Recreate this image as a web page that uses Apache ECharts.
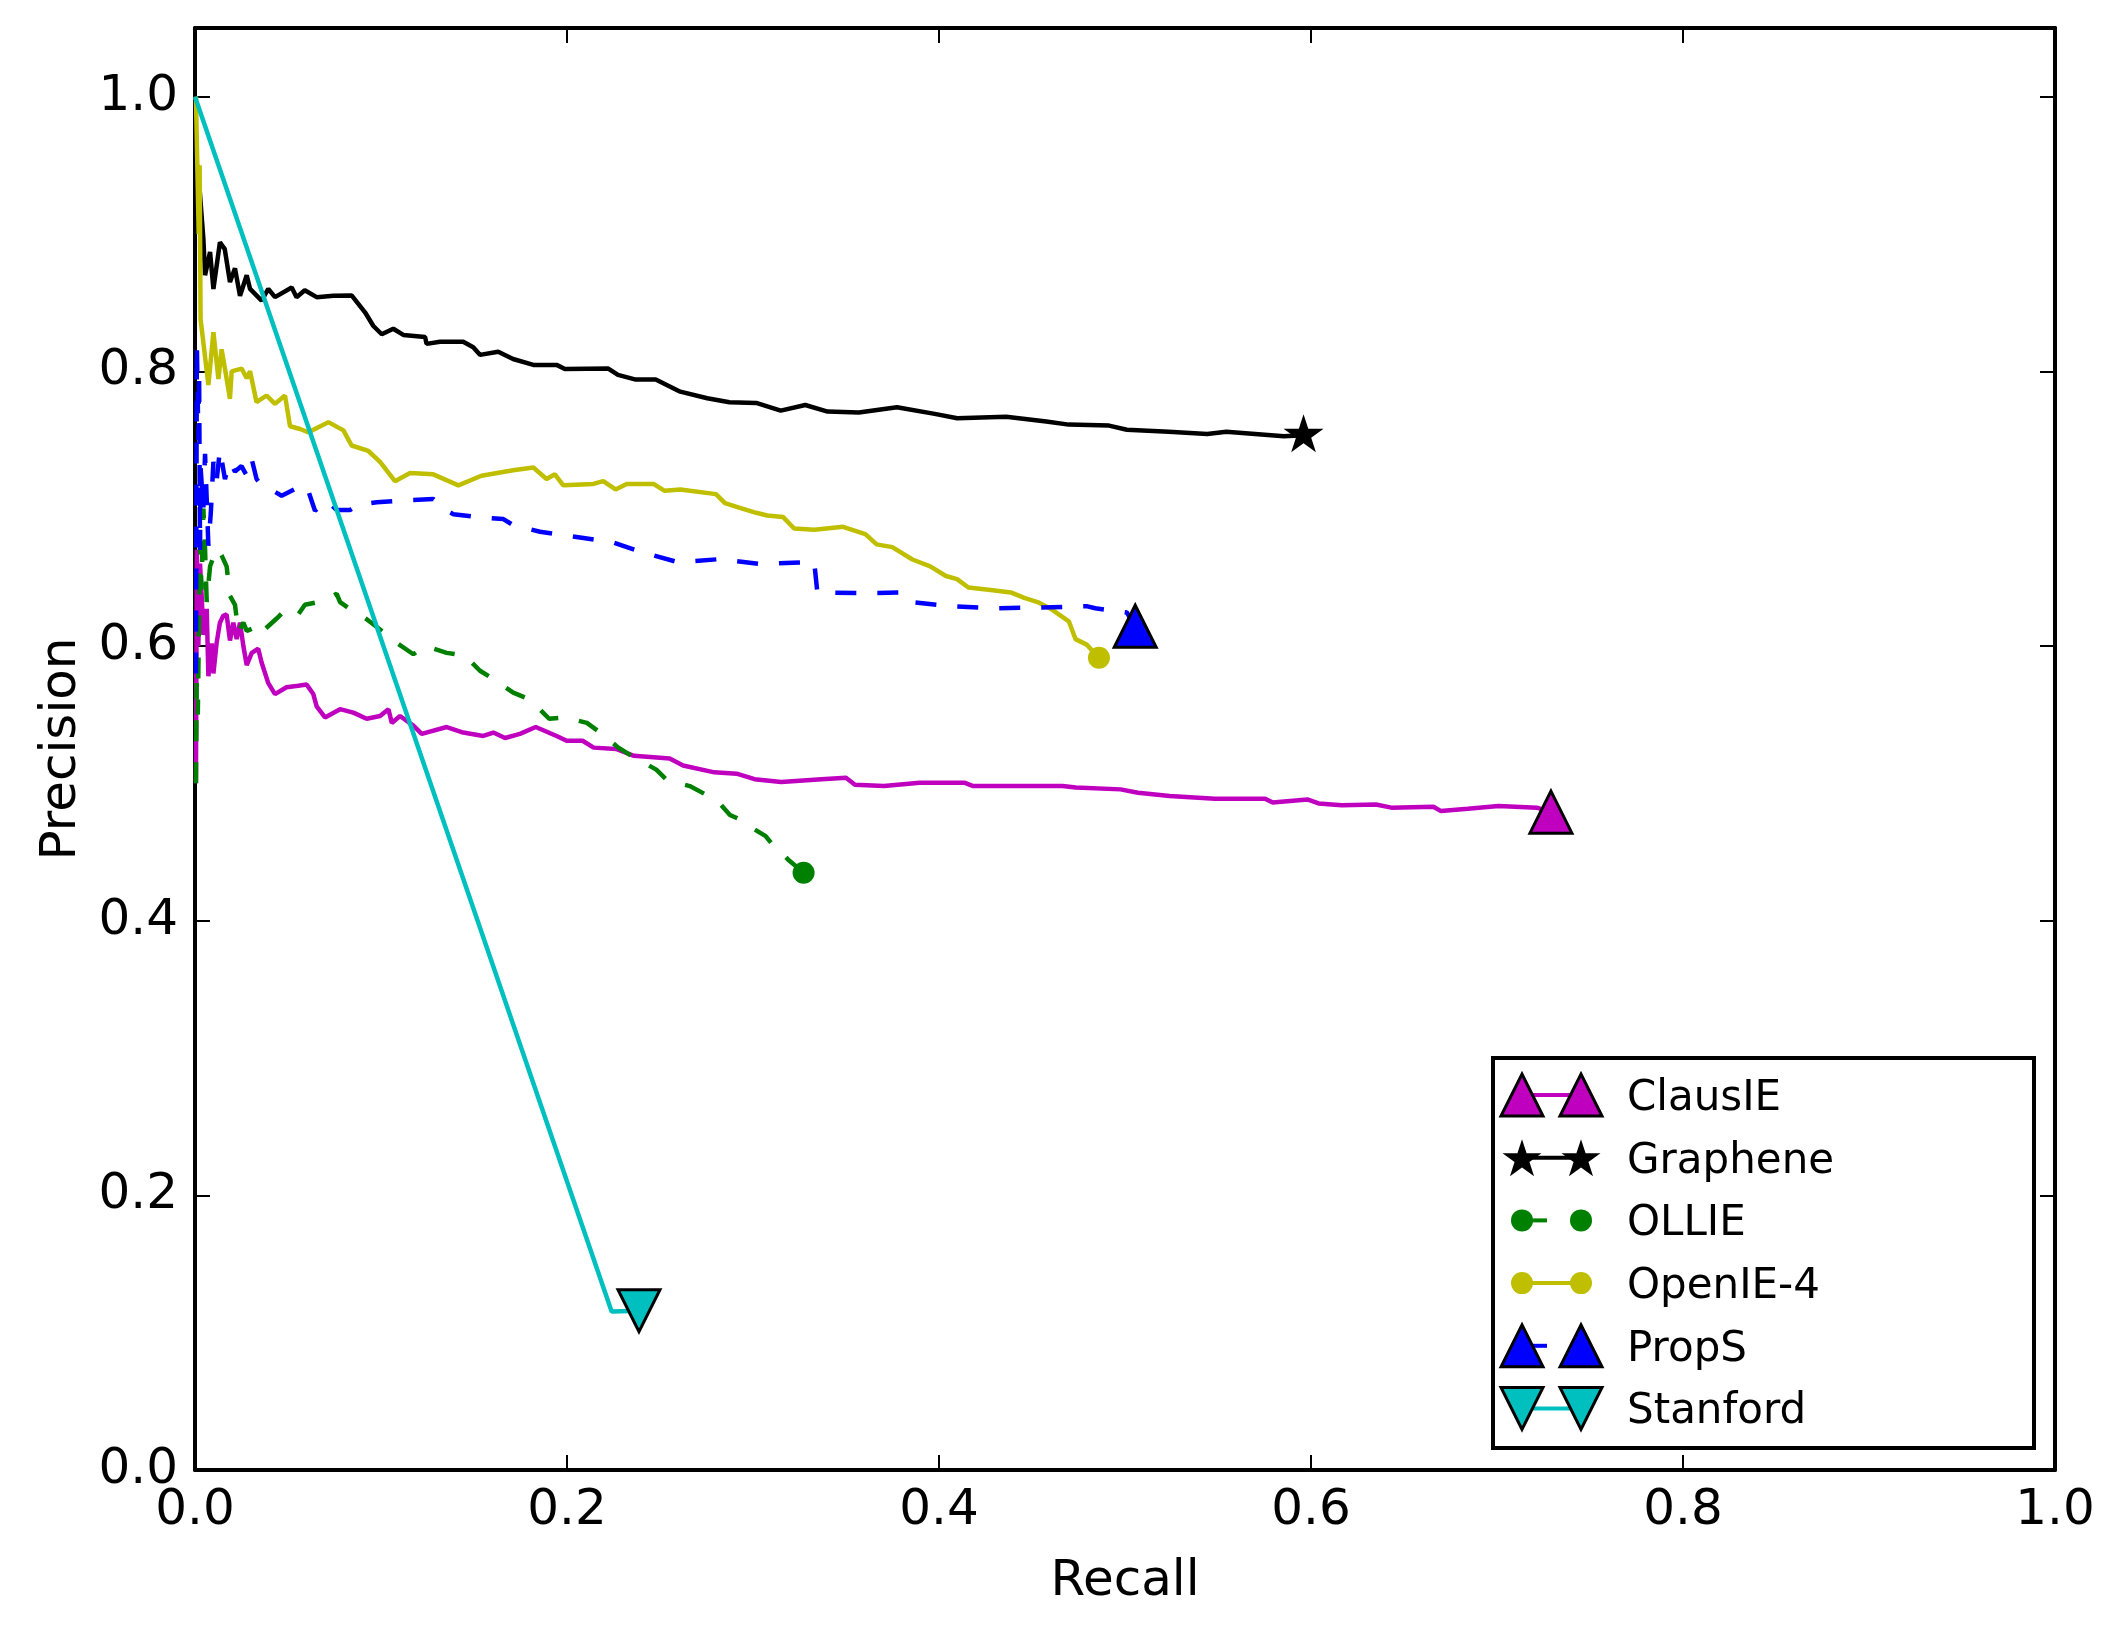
<!DOCTYPE html>
<html>
<head>
<meta charset="utf-8">
<script src="https://cdn.jsdelivr.net/npm/echarts@6/dist/echarts.min.js"></script>
<style>
html, body { margin: 0; padding: 0; background: #fff; }
#chart { width: 2124px; height: 1633px; }
</style>
</head>
<body>
<div id="chart"></div>
<script>
// recall / precision pairs
var clausie = [[0.0005,0.50],[0.0010,0.67],[0.0018,0.60],[0.0027,0.66],[0.0036,0.636],[0.0045,0.608],[0.0063,0.627],[0.0072,0.578],[0.009,0.602],[0.0099,0.580],[0.0116,0.602],[0.0134,0.617],[0.0152,0.622],[0.017,0.623],[0.0188,0.604],[0.0206,0.617],[0.0224,0.605],[0.0242,0.617],[0.026,0.600],[0.0278,0.586],[0.0305,0.595],[0.034,0.598],[0.0358,0.588],[0.0394,0.573],[0.043,0.565],[0.0492,0.570],[0.0555,0.571],[0.060,0.572],[0.0636,0.565],[0.0654,0.556],[0.0699,0.548],[0.078,0.554],[0.0851,0.5515],[0.0923,0.547],[0.0995,0.549],[0.104,0.554],[0.1058,0.544],[0.1102,0.549],[0.1174,0.542],[0.1219,0.536],[0.1353,0.541],[0.1442,0.537],[0.155,0.5345],[0.1604,0.537],[0.1667,0.533],[0.1747,0.536],[0.1832,0.541],[0.1944,0.5345],[0.1998,0.531],[0.2084,0.531],[0.2143,0.526],[0.2264,0.525],[0.236,0.520],[0.2552,0.518],[0.2624,0.513],[0.2792,0.508],[0.2912,0.507],[0.3008,0.503],[0.3152,0.501],[0.3368,0.503],[0.350,0.504],[0.3548,0.499],[0.3704,0.498],[0.3896,0.5005],[0.4136,0.5005],[0.4184,0.498],[0.4424,0.498],[0.4664,0.498],[0.4736,0.497],[0.4976,0.4956],[0.507,0.4932],[0.524,0.4908],[0.5483,0.4888],[0.5753,0.4888],[0.5794,0.486],[0.598,0.4883],[0.6041,0.4854],[0.6165,0.484],[0.6349,0.4846],[0.6432,0.4823],[0.6658,0.483],[0.6699,0.4798],[0.6843,0.4815],[0.7008,0.4835],[0.7214,0.4823],[0.729,0.479]];

var graphene = [[0.0015,0.95],[0.0045,0.8965],[0.0054,0.870],[0.0081,0.887],[0.0099,0.860],[0.0134,0.894],[0.016,0.889],[0.0188,0.865],[0.0215,0.875],[0.0242,0.855],[0.0278,0.870],[0.0296,0.860],[0.0358,0.8515],[0.0394,0.860],[0.043,0.854],[0.052,0.861],[0.0546,0.854],[0.059,0.859],[0.0654,0.854],[0.0744,0.855],[0.0842,0.8553],[0.0914,0.843],[0.0959,0.833],[0.1004,0.827],[0.1066,0.831],[0.112,0.8265],[0.1237,0.825],[0.1245,0.820],[0.1317,0.8216],[0.1442,0.8216],[0.1496,0.8175],[0.1532,0.812],[0.163,0.8143],[0.171,0.809],[0.1819,0.8047],[0.1944,0.8047],[0.1989,0.8017],[0.2222,0.802],[0.2274,0.7974],[0.237,0.794],[0.2477,0.794],[0.2609,0.7852],[0.2754,0.7804],[0.2873,0.7775],[0.3017,0.777],[0.3149,0.7714],[0.3281,0.7755],[0.3401,0.7707],[0.3569,0.770],[0.3774,0.7738],[0.3977,0.769],[0.4098,0.7658],[0.4361,0.767],[0.4577,0.7634],[0.4697,0.7612],[0.4914,0.7605],[0.501,0.7575],[0.5236,0.756],[0.5442,0.7543],[0.5545,0.756],[0.5854,0.7527],[0.596,0.7534]];

var ollie = [[0.0005,0.50],[0.0009,0.573],[0.0015,0.55],[0.0027,0.675],[0.0035,0.641],[0.0045,0.700],[0.0054,0.671],[0.0063,0.632],[0.0081,0.658],[0.0116,0.671],[0.0143,0.666],[0.017,0.658],[0.0188,0.6365],[0.0215,0.630],[0.0233,0.610],[0.026,0.617],[0.0278,0.611],[0.0331,0.614],[0.0349,0.609],[0.0439,0.620],[0.0492,0.627],[0.0555,0.623],[0.0591,0.630],[0.0699,0.633],[0.0762,0.638],[0.078,0.632],[0.0842,0.626],[0.0923,0.6195],[0.0995,0.612],[0.1066,0.604],[0.1174,0.594],[0.1237,0.600],[0.1353,0.595],[0.1451,0.593],[0.1532,0.582],[0.1604,0.576],[0.1711,0.566],[0.1801,0.561],[0.1904,0.547],[0.1988,0.548],[0.2107,0.544],[0.2179,0.537],[0.2276,0.526],[0.236,0.519],[0.248,0.510],[0.254,0.502],[0.266,0.498],[0.2744,0.492],[0.2816,0.486],[0.2876,0.477],[0.2948,0.4725],[0.3008,0.4665],[0.3068,0.4616],[0.3104,0.4555],[0.3152,0.4495],[0.3188,0.4446],[0.3272,0.4349]];

var openie4 = [[0.0005,1.0],[0.0015,1.0],[0.002,0.90],[0.0025,0.95],[0.003,0.838],[0.0072,0.790],[0.0099,0.8285],[0.0126,0.7945],[0.0143,0.816],[0.0161,0.802],[0.0188,0.780],[0.0197,0.800],[0.0251,0.802],[0.0278,0.795],[0.0296,0.800],[0.0331,0.7775],[0.0385,0.7824],[0.043,0.7763],[0.0484,0.7824],[0.0511,0.760],[0.0565,0.758],[0.061,0.7556],[0.0717,0.763],[0.0798,0.757],[0.0842,0.746],[0.0932,0.742],[0.0995,0.734],[0.1075,0.720],[0.1156,0.726],[0.1281,0.725],[0.1416,0.717],[0.154,0.724],[0.171,0.728],[0.1819,0.730],[0.189,0.7216],[0.1935,0.725],[0.198,0.717],[0.2142,0.718],[0.2195,0.720],[0.2261,0.714],[0.2321,0.718],[0.2465,0.718],[0.2525,0.713],[0.2609,0.714],[0.2801,0.7106],[0.2849,0.704],[0.2921,0.701],[0.3017,0.697],[0.3077,0.695],[0.3161,0.694],[0.3221,0.6856],[0.333,0.6847],[0.3484,0.6868],[0.3604,0.6815],[0.3665,0.674],[0.3749,0.672],[0.3857,0.663],[0.3953,0.658],[0.4037,0.651],[0.4097,0.6487],[0.4158,0.6426],[0.4266,0.641],[0.4386,0.639],[0.4458,0.635],[0.453,0.632],[0.4602,0.627],[0.4698,0.618],[0.4734,0.605],[0.4794,0.601],[0.486,0.5915]];

var props = [[0.0005,0.58],[0.001,0.82],[0.0018,0.75],[0.0022,0.80],[0.0027,0.67],[0.003,0.73],[0.0045,0.70],[0.0054,0.74],[0.0072,0.673],[0.0085,0.697],[0.0099,0.734],[0.0116,0.72],[0.0134,0.743],[0.0161,0.7216],[0.0188,0.734],[0.0215,0.727],[0.025,0.731],[0.0278,0.724],[0.0305,0.736],[0.0331,0.7216],[0.0358,0.7167],[0.0403,0.7143],[0.0466,0.7094],[0.0538,0.7143],[0.060,0.7167],[0.0618,0.7094],[0.0645,0.6985],[0.0708,0.7058],[0.0762,0.699],[0.0833,0.699],[0.0878,0.703],[0.0977,0.7046],[0.111,0.7058],[0.1281,0.707],[0.1353,0.6985],[0.1389,0.696],[0.1532,0.6936],[0.1658,0.6924],[0.1711,0.688],[0.1855,0.6832],[0.207,0.679],[0.2249,0.6754],[0.241,0.668],[0.2597,0.661],[0.2825,0.6633],[0.3041,0.6596],[0.3329,0.6613],[0.3346,0.639],[0.3617,0.6385],[0.381,0.639],[0.387,0.6317],[0.4073,0.6289],[0.4289,0.6275],[0.4553,0.628],[0.4793,0.629],[0.484,0.6275],[0.501,0.6244],[0.5055,0.6144]];

var stanford = [[0,1.0],[0.224,0.1154],[0.2387,0.116]];

var names = ['ClausIE', 'Graphene', 'OLLIE', 'OpenIE-4', 'PropS', 'Stanford'];
var colors = ['#bf00bf', '#000000', '#008000', '#bfbf00', '#0000ff', '#00bfbf'];
var tickLabels = ['0.0', '0.2', '0.4', '0.6', '0.8', '1.0'];

var FONT = 'DejaVu Sans';
var STAR = 'path://M100,0 L122.45,69.1 L195.1,69.1 L136.33,111.8 L158.78,180.9 L100,138.2 L41.22,180.9 L63.67,111.8 L4.9,69.1 L77.55,69.1 Z';
var TRI_DOWN = 'path://M0,0 L2,0 L1,2 Z';

var markers = [
    {symbol: 'triangle', size: [42, 42], border: true},
    {symbol: STAR, size: [40, 38], offset: [0, -2], border: false},
    {symbol: 'circle', size: 22, border: false},
    {symbol: 'circle', size: 22, border: false},
    {symbol: 'triangle', size: [42, 42], border: true},
    {symbol: TRI_DOWN, size: [42, 42], border: true}
];

function makeSeries(i, pts, dashed) {
    var m = markers[i];
    var data = pts.map(function (p, k) {
        if (k < pts.length - 1) return p;
        return {
            value: p,
            symbol: m.symbol,
            symbolSize: m.size,
            symbolOffset: m.offset || [0, 0],
            itemStyle: {color: colors[i], borderColor: '#000', borderWidth: m.border ? 3 : 0}
        };
    });
    return {
        type: 'line',
        name: names[i],
        data: data,
        symbol: 'none',
        lineStyle: {color: colors[i], width: 4.5, type: dashed ? [21, 21] : 'solid'},
        itemStyle: {color: colors[i]},
        animation: false
    };
}

function tickFmt(v) {
    var k = v * 5;
    if (Math.abs(k - Math.round(k)) > 1e-6) return '';
    return tickLabels[Math.round(k)];
}

var tickStyle = {show: true, inside: true, length: 15, lineStyle: {color: '#000', width: 2}};
var lineStyleAxis = {show: true, onZero: false, lineStyle: {color: '#000', width: 4}};

// legend drawn by hand, matplotlib style: marker - line - marker
function legendMarker(i, cx, cy) {
    var c = colors[i];
    if (i === 2 || i === 3) {
        return {type: 'circle', shape: {cx: cx, cy: cy, r: 11}, style: {fill: c}, z: 102};
    }
    var pts;
    if (i === 1) {
        pts = [];
        for (var k = 0; k < 10; k++) {
            var a = (-90 + 36 * k) * Math.PI / 180;
            var r = k % 2 === 0 ? 20.5 : 20.5 * 0.382;
            pts.push([cx + r * Math.cos(a), cy + 2 + r * Math.sin(a)]);
        }
        return {type: 'polygon', shape: {points: pts}, style: {fill: c}, z: 102};
    }
    if (i === 5) {
        pts = [[cx - 21, cy - 21], [cx + 21, cy - 21], [cx, cy + 21]];
    } else {
        pts = [[cx - 21, cy + 21], [cx, cy - 21], [cx + 21, cy + 21]];
    }
    return {type: 'polygon', shape: {points: pts}, style: {fill: c, stroke: '#000', lineWidth: 3}, z: 102};
}

var legendEls = [{
    type: 'rect', shape: {x: 1493, y: 1058, width: 541, height: 390},
    style: {fill: '#fff', stroke: '#000', lineWidth: 4}, z: 100
}];
names.forEach(function (n, i) {
    var y = 1095 + i * 62.7;
    var dashed = (i === 2 || i === 4);
    legendEls.push({type: 'line', shape: {x1: 1522, y1: y, x2: dashed ? 1547 : 1581, y2: y},
        style: {stroke: colors[i], lineWidth: 4}, z: 101});
    legendEls.push(legendMarker(i, 1522, y));
    legendEls.push(legendMarker(i, 1581, y));
    legendEls.push({type: 'text', x: 1627, y: y + 4, z: 102,
        style: {text: n, fill: '#000', font: '42px "' + FONT + '"', verticalAlign: 'middle', align: 'left'}});
});

var option = {
    backgroundColor: '#fff',
    animation: false,
    textStyle: {fontFamily: FONT},
    grid: {left: 195, right: 69, top: 28, bottom: 163, containLabel: false},
    xAxis: [{
        type: 'value', min: 0, max: 1, interval: 0.2, position: 'bottom',
        name: 'Recall', nameLocation: 'middle', nameGap: 87,
        nameTextStyle: {fontSize: 50, color: '#000', fontFamily: FONT},
        axisLine: lineStyleAxis, axisTick: tickStyle, splitLine: {show: false},
        axisLabel: {fontSize: 50, color: '#000', margin: 16, fontFamily: FONT, formatter: tickFmt}
    }, {
        type: 'value', min: 0, max: 1, interval: 0.2, position: 'top',
        axisLine: lineStyleAxis, axisTick: tickStyle, splitLine: {show: false},
        axisLabel: {show: false}
    }],
    yAxis: [{
        type: 'value', min: 0, max: 1.05, interval: 0.2, position: 'left',
        name: 'Precision', nameLocation: 'middle', nameGap: 108,
        nameTextStyle: {fontSize: 50, color: '#000', fontFamily: FONT},
        axisLine: lineStyleAxis, axisTick: tickStyle, splitLine: {show: false},
        axisLabel: {fontSize: 50, color: '#000', margin: 17, fontFamily: FONT, formatter: tickFmt}
    }, {
        type: 'value', min: 0, max: 1.05, interval: 0.2, position: 'right',
        axisLine: lineStyleAxis, axisTick: tickStyle, splitLine: {show: false},
        axisLabel: {show: false}
    }],
    series: [
        makeSeries(0, clausie, false),
        makeSeries(1, graphene, false),
        makeSeries(2, ollie, true),
        makeSeries(3, openie4, false),
        makeSeries(4, props, true),
        makeSeries(5, stanford, false)
    ],
    graphic: legendEls
};

echarts.init(document.getElementById('chart')).setOption(option);
</script>
</body>
</html>
